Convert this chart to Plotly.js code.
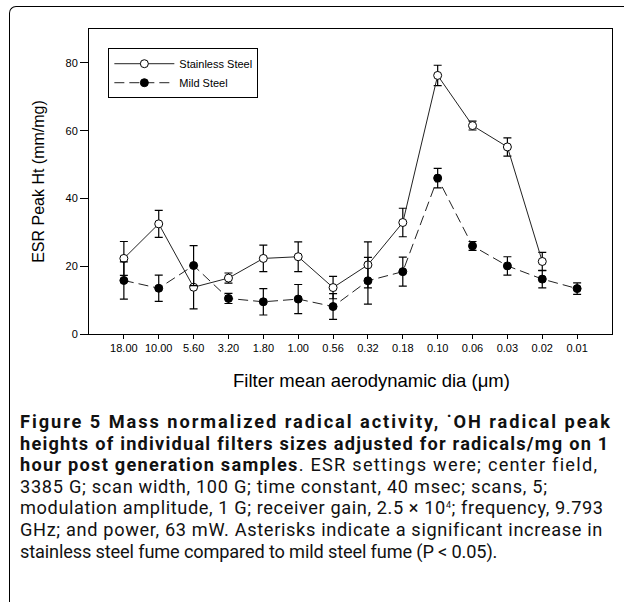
<!DOCTYPE html>
<html>
<head>
<meta charset="utf-8">
<script src="https://cdn.plot.ly/plotly-3.0.1.min.js"></script>
<style>
  html, body { margin: 0; padding: 0; background: #fff; }
  #wrap { position: relative; width: 625px; height: 602px; overflow: hidden; }
  #chart { position: absolute; left: 0; top: 0; width: 625px; height: 602px; }
  #frame { position: absolute; left: 9px; top: 6px; width: 614px; height: 610px;
           border-left: 1px solid #000; border-top: 1px solid #000;
           border-top-left-radius: 7px; border-bottom-left-radius: 7px; pointer-events: none; }
  #caption { position: absolute; left: 20px; top: 411px; font-family: Roboto, sans-serif;
             font-size: 18.2px; line-height: 21.6px; color: #111; white-space: nowrap; }
  #caption b { font-weight: 700; }
  #caption sup { font-size: 9px; line-height: 0; vertical-align: 6px; }
  #caption .l1 { letter-spacing: 1.95px; }
  #caption .l2 { letter-spacing: 1.22px; }
  #caption .l3 { letter-spacing: 1.25px; }
  #caption .l4 { letter-spacing: 0.7px; }
  #caption .l5 { letter-spacing: 0.6px; }
  #caption .l6 { letter-spacing: 0.65px; }
  #caption .l7 { letter-spacing: -0.15px; }
</style>
</head>
<body>
<div id="wrap">
  <div id="chart"></div>
  <div id="frame"></div>
  <div id="caption">
    <span class="l1"><b>Figure 5 Mass normalized radical activity, ˙OH radical peak</b></span><br>
    <span class="l2"><b>heights of individual filters sizes adjusted for radicals/mg on 1</b></span><br>
    <span class="l3"><b>hour post generation samples</b>. ESR settings were; center field,</span><br>
    <span class="l4">3385 G; scan width, 100 G; time constant, 40 msec; scans, 5;</span><br>
    <span class="l5">modulation amplitude, 1 G; receiver gain, 2.5 × 10<sup>4</sup>; frequency, 9.793</span><br>
    <span class="l6">GHz; and power, 63 mW. Asterisks indicate a significant increase in</span><br>
    <span class="l7">stainless steel fume compared to mild steel fume (P &lt; 0.05).</span>
  </div>
</div>
<script>
const categories = ["18.00","10.00","5.60","3.20","1.80","1.00","0.56","0.32","0.18","0.10","0.06","0.03","0.02","0.01"];
const stainless = [22.3, 32.5, 13.8, 16.5, 22.3, 22.8, 13.7, 20.4, 32.9, 76.3, 61.5, 55.2, 21.4, null];
const stainlessErr = [5.0, 4.0, 6.4, 1.5, 3.9, 4.4, 3.3, 6.8, 4.2, 3.0, 1.3, 2.7, 2.7, null];
const mild = [15.8, 13.5, 20.2, 10.5, 9.5, 10.3, 8.1, 15.7, 18.4, 46.0, 26.0, 20.1, 16.2, 13.4];
const mildErr = [5.5, 3.9, 5.9, 1.5, 3.9, 4.3, 3.8, 6.9, 4.3, 2.9, 1.3, 2.7, 2.6, 1.7];
const yTicks = [0, 20, 40, 60, 80];
const xTitle = "Filter mean aerodynamic dia (μm)";
const yTitle = "ESR Peak Ht (mm/mg)";

const font = "Liberation Sans, Arial, sans-serif";

const traces = [
  {
    type: "scatter", mode: "lines+markers", name: "Stainless Steel",
    x: categories, y: stainless,
    error_y: { type: "data", array: stainlessErr, visible: true, color: "#000", thickness: 1.2, width: 4 },
    line: { color: "#222", width: 1 },
    marker: { symbol: "circle", size: 8, color: "#fff", line: { color: "#000", width: 1 } }
  },
  {
    type: "scatter", mode: "lines+markers", name: "Mild Steel",
    x: categories, y: mild,
    error_y: { type: "data", array: mildErr, visible: true, color: "#000", thickness: 1.2, width: 4 },
    line: { color: "#222", width: 1, dash: "10px,5px" },
    marker: { symbol: "circle", size: 8, color: "#000", line: { color: "#000", width: 1 } }
  }
];

const layout = {
  width: 625, height: 602,
  margin: { l: 89, r: 13, t: 29, b: 268 },
  paper_bgcolor: "rgba(0,0,0,0)", plot_bgcolor: "#fff",
  font: { family: font, color: "#000" },
  showlegend: true,
  legend: {
    x: 0.037, y: 0.937, xanchor: "left", yanchor: "top",
    bordercolor: "#000", borderwidth: 1, bgcolor: "#fff",
    font: { size: 11, family: font }, itemwidth: 60, tracegroupgap: 0
  },
  xaxis: {
    type: "category", range: [-1, 14],
    showline: true, linecolor: "#000", linewidth: 1, mirror: true,
    ticks: "outside", ticklen: 4, tickcolor: "#000",
    showgrid: false, zeroline: false,
    tickfont: { size: 11, family: font }
  },
  yaxis: {
    range: [0, 90], tickvals: yTicks,
    showline: true, linecolor: "#000", linewidth: 1, mirror: true,
    ticks: "outside", ticklen: 8, tickcolor: "#000",
    showgrid: false, zeroline: false,
    tickfont: { size: 11, family: font },
    title: { text: yTitle, font: { size: 16, family: font }, standoff: 16 }
  },
  annotations: [
    {
      text: xTitle, xref: "paper", yref: "paper", x: 0.5405, y: -0.154,
      xanchor: "center", yanchor: "middle", showarrow: false,
      font: { size: 18.5, family: font, color: "#000" }
    }
  ]
};

Plotly.newPlot("chart", traces, layout, { displayModeBar: false, staticPlot: true });
</script>
</body>
</html>
